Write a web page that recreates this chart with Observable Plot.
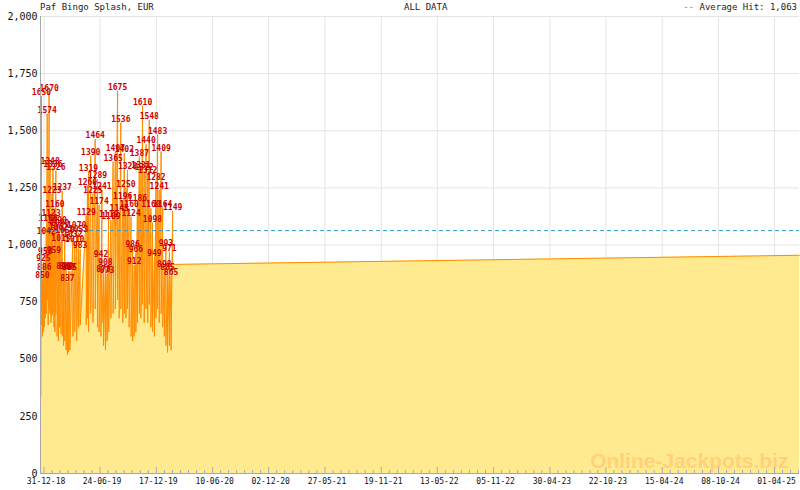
<!DOCTYPE html>
<html><head><meta charset="utf-8">
<script src="https://cdn.jsdelivr.net/npm/d3@7"></script>
<script src="https://cdn.jsdelivr.net/npm/@observablehq/plot@0.6"></script>
<style>
body{margin:0;background:#fff;}
#wrap{position:relative;width:800px;height:490px;overflow:hidden;}
.hdr{position:absolute;top:1px;font:9px "DejaVu Sans Mono",monospace;color:#222;white-space:pre;line-height:12px;}
</style></head>
<body><div id="wrap">
<div class="hdr" style="left:40px">Paf Bingo Splash, EUR</div>
<div class="hdr" style="left:404px">ALL DATA</div>
<div class="hdr" style="right:3px"><span style="color:#3399CC">--</span> Average Hit: 1,063</div>
<div id="chart"></div>
</div>
<script>
// ---- data ----
const title = "Paf Bingo Splash, EUR";
const averageHit = 1063;
const startDate = "2018-12-21", startValue = 340;
const endDate = "2025-06-18", endValue = 955;
// hit days counted from 31-12-18
const hitDay = [-8,-5,-2,1,4,7,10,13,16,19,22,25,28,31,34,37,41,45,49,53,57,61,65,69,73,77,81,90,96,102,108,113,
  132,136,139,146,153,160,167,172,178,181,186,192,197,202,209,216,223,230,235,240,246,251,256,261,266,272,277,282,287,292,
  298,303,308,313,319,324,329,334,339,345,350,355,360,366,371,376,381,386,392,397,402];
const hitPeak = [1650,850,925,886,958,1042,1574,1100,1670,1348,1123,1223,1336,959,1160,1326,1090,1062,1080,1015,1237,890,1050,889,837,887,885,1032,1010,1070,1053,983,
  1129,1260,1319,1390,1225,1464,1289,1174,942,1241,878,908,873,1119,1109,1365,1407,1675,1145,1536,1196,1402,1250,1328,1160,1124,986,912,966,1186,
  1387,1331,1610,1322,1440,1312,1548,1160,1098,949,1282,1483,1241,1409,1164,898,993,885,971,865,1149];
const hitReset = [650,600,620,640,680,700,760,650,720,700,660,690,700,640,620,700,600,580,640,610,600,560,580,540,520,530,540,600,620,580,640,650,
  650,680,620,700,660,720,640,620,600,660,560,540,580,620,680,700,720,760,680,720,660,700,680,720,640,600,580,600,620,660,
  700,680,740,660,720,660,740,640,620,600,680,720,660,700,640,600,560,530,560,540,915];
const majorTicks = ["2018-12-31","2019-06-24","2019-12-17","2020-06-10","2020-12-02","2021-05-27","2021-11-19",
  "2022-05-13","2022-11-05","2023-04-30","2023-10-22","2024-04-15","2024-10-08","2025-04-01"];
const yTicks = [0,250,500,750,1000,1250,1500,1750,2000];

// ---- build ----
const parse = s => new Date(s + "T00:00:00Z");
const base = parse("2018-12-31");
const dayDate = d => new Date(base.getTime() + d * 864e5);
const series = [{date: parse(startDate), value: startValue}];
const hits = [];
hitDay.forEach((d, i) => {
  const dt = dayDate(d);
  hits.push({date: dt, peak: hitPeak[i]});
  series.push({date: dt, value: hitPeak[i]});
  series.push({date: dt, value: hitReset[i]});
});
series.push({date: parse(endDate), value: endValue});

const majors = majorTicks.map(parse);
const minors = [];
for (let i = 0; i < majors.length; i++) {
  const a = +majors[i];
  const step = i < majors.length - 1 ? (+majors[i+1] - a) / 7 : (+majors[i] - +majors[i-1]) / 7;
  for (let k = 1; k < 7; k++) {
    const t = a + k * step;
    if (t < +parse(endDate)) minors.push(new Date(t));
  }
}
const domainX = [parse("2018-12-20"), parse(endDate)];
const innerH = 490 - 16 - 17;
const mono = "DejaVu Sans Mono";

const chart = Plot.plot({
  width: 800, height: 490,
  marginLeft: 40, marginRight: 1, marginTop: 16, marginBottom: 17,
  style: {fontFamily: mono, background: "#fff", color: "#111"},
  x: {type: "utc", domain: domainX},
  y: {domain: [0, 2000]},
  marks: [
    Plot.gridY(yTicks, {stroke: "#e4e4e4", strokeOpacity: 1}),
    Plot.gridX(majors, {stroke: "#e4e4e4", strokeOpacity: 1}),
    Plot.areaY(series, {x: "date", y1: 0, y2: "value", fill: "#FFEA90"}),
    Plot.lineY(series, {x: "date", y: "value", stroke: "#FF8C00", strokeWidth: 1}),
    Plot.text(["Online-Jackpots.biz"], {frameAnchor: "bottom-right", dx: -11, dy: -6, text: d => d,
      fontFamily: "Liberation Sans, Arial", fontWeight: "bold", fontSize: 21, fill: "#FFD27A", lineAnchor: "bottom"}),
    Plot.ruleY([averageHit], {stroke: "#3399CC", strokeWidth: 1, strokeDasharray: "4,3"}),
    Plot.text(hits, {x: "date", y: "peak", text: d => String(d.peak), fill: "#CC0000",
      fontSize: 8, fontFamily: mono, fontWeight: "bold", lineAnchor: "bottom", dy: -1}),
    Plot.ruleX(majors, {stroke: "#A8A8B8", insetTop: innerH - 6}),
    Plot.ruleX(minors, {stroke: "#A8A8B8", insetTop: innerH - 3}),
    Plot.ruleY([0], {stroke: "#A8A8A8"}),
    Plot.ruleX([domainX[0]], {stroke: "#A8A8A8"}),
    Plot.axisY(yTicks, {tickSize: 0, tickPadding: 3, tickFormat: d3.format(","), fontSize: 10, fontFamily: mono, fill: "#111"}),
    Plot.axisX(majors, {tickSize: 0, tickPadding: 5, dx: 2, tickFormat: d3.utcFormat("%d-%m-%y"), fontSize: 8, fontFamily: mono, fill: "#111"})
  ]
});
document.getElementById("chart").appendChild(chart);
</script>
</body></html>
